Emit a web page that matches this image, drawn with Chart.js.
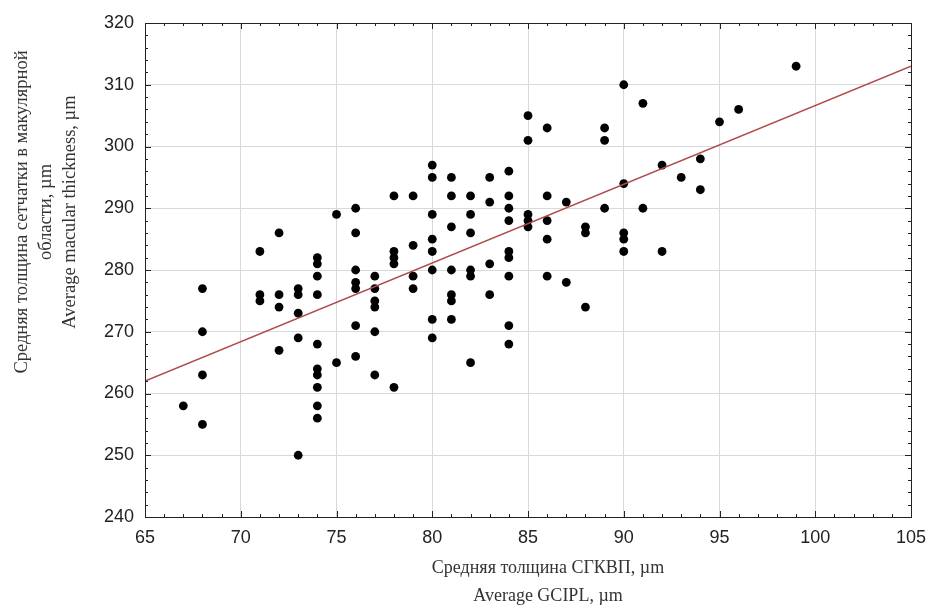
<!DOCTYPE html>
<html>
<head>
<meta charset="utf-8">
<title>Macular thickness vs GCIPL</title>
<script src="https://cdn.jsdelivr.net/npm/chart.js"></script>
<style>
  body { margin: 0; background: #fff; }
</style>
</head>
<body>
<canvas id="scatterChart" width="930" height="613"></canvas>
<script>
// GCIPL (x) and macular thickness (y), one entry per patient
const gcipl = [
  67,
  68, 68, 68, 68,
  71, 71, 71,
  72, 72, 72, 72,
  73, 73, 73, 73, 73,
  74, 74, 74, 74, 74, 74, 74, 74, 74, 74,
  75, 75,
  76, 76, 76, 76, 76, 76, 76,
  77, 77, 77, 77, 77, 77,
  78, 78, 78, 78, 78,
  79, 79, 79, 79,
  80, 80, 80, 80, 80, 80, 80, 80,
  81, 81, 81, 81, 81, 81, 81,
  82, 82, 82, 82, 82, 82,
  83, 83, 83, 83,
  84, 84, 84, 84, 84, 84, 84, 84, 84,
  85, 85, 85, 85, 85,
  86, 86, 86, 86, 86,
  87, 87,
  88, 88, 88,
  89, 89, 89,
  90, 90, 90, 90, 90,
  91, 91,
  92, 92,
  93,
  94, 94,
  95,
  96,
  99
];
const macular = [
  258,
  277, 270, 263, 255,
  283, 276, 275,
  286, 276, 274, 267,
  277, 276, 273, 269, 250,
  282, 281, 279, 276, 268, 264, 263, 261, 258, 256,
  289, 265,
  290, 286, 280, 278, 277, 271, 266,
  279, 277, 275, 274, 270, 263,
  292, 283, 282, 281, 261,
  292, 284, 279, 277,
  297, 295, 289, 285, 283, 280, 272, 269,
  295, 292, 287, 280, 276, 275, 272,
  292, 289, 286, 280, 279, 265,
  295, 291, 281, 276,
  296, 292, 290, 288, 283, 282, 279, 271, 268,
  305, 301, 289, 288, 287,
  303, 292, 288, 285, 279,
  291, 278,
  287, 286, 274,
  303, 301, 290,
  310, 294, 286, 285, 283,
  307, 290,
  297, 283,
  295,
  298, 293,
  304,
  306,
  313
];

// regression line at the plot edges
const fitX = [65, 105];
const fitY = [262, 313];

const xTicks = [65, 70, 75, 80, 85, 90, 95, 100, 105];
const yTicks = [240, 250, 260, 270, 280, 290, 300, 310, 320];

const xTitle = ['Средняя толщина СГКВП, µm', 'Average GCIPL, µm'];
const yTitle = ['Средняя толщина сетчатки в макулярной', 'области, µm', 'Average macular thickness, µm'];

Chart.defaults.font.family = '"Liberation Sans", Arial, sans-serif';
Chart.defaults.font.size = 18;
Chart.defaults.color = '#222';

// frame, inward minor ticks and axis titles, drawn on top
const framePlugin = {
  id: 'frame',
  afterDraw(chart) {
    const { ctx, chartArea: a, scales: { x, y } } = chart;
    ctx.save();
    ctx.strokeStyle = '#222';
    ctx.lineWidth = 1;
    ctx.strokeRect(a.left + 0.5, a.top + 0.5, a.right - a.left, a.bottom - a.top);

    ctx.beginPath();
    for (let v = x.min; v <= x.max; v++) {
      const px = Math.round(x.getPixelForValue(v)) + 0.5;
      const len = v % 5 === 0 ? 6 : 3;
      ctx.moveTo(px, a.bottom); ctx.lineTo(px, a.bottom - len);
      ctx.moveTo(px, a.top); ctx.lineTo(px, a.top + len);
    }
    for (let v = y.min; v <= y.max; v += 2) {
      const py = Math.round(y.getPixelForValue(v)) + 0.5;
      const len = v % 10 === 0 ? 6 : 3;
      ctx.moveTo(a.left, py); ctx.lineTo(a.left + len, py);
      ctx.moveTo(a.right, py); ctx.lineTo(a.right - len, py);
    }
    ctx.stroke();

    ctx.fillStyle = '#333';
    ctx.font = '18px "Liberation Serif", "Times New Roman", serif';
    ctx.textAlign = 'center';
    ctx.textBaseline = 'middle';
    xTitle.forEach((t, i) => ctx.fillText(t, 548, 568 + i * 28));

    ctx.font = '18.5px "Liberation Serif", "Times New Roman", serif';
    ctx.translate(22, 212);
    ctx.rotate(-Math.PI / 2);
    yTitle.forEach((t, i) => ctx.fillText(t, 0, i * 24));
    ctx.restore();
  }
};

const ctx = document.getElementById('scatterChart').getContext('2d');
new Chart(ctx, {
  type: 'scatter',
  data: {
    datasets: [
      {
        label: 'Patients',
        data: gcipl.map((g, i) => ({ x: g, y: macular[i] })),
        backgroundColor: '#000',
        borderWidth: 0,
        pointRadius: 4.4,
        order: 1
      },
      {
        label: 'Fit',
        type: 'line',
        data: fitX.map((g, i) => ({ x: g, y: fitY[i] })),
        borderColor: '#b04a4a',
        borderWidth: 1.5,
        pointRadius: 0,
        fill: false,
        order: 0
      }
    ]
  },
  options: {
    responsive: false,
    animation: false,
    layout: { padding: { top: 23, right: 19, left: 0, bottom: 0 } },
    plugins: {
      legend: { display: false },
      tooltip: { enabled: false }
    },
    scales: {
      x: {
        type: 'linear',
        min: 65,
        max: 105,
        afterBuildTicks: s => { s.ticks = xTicks.map(v => ({ value: v })); },
        afterFit: s => { s.height = 96; s.paddingRight = 0; s.paddingLeft = 0; },
        ticks: { padding: 10, maxRotation: 0 },
        grid: { color: '#d9d9d9', drawTicks: false },
        border: { display: false }
      },
      y: {
        type: 'linear',
        min: 240,
        max: 320,
        afterBuildTicks: s => { s.ticks = yTicks.map(v => ({ value: v })); },
        afterFit: s => { s.width = 145; },
        ticks: { padding: 11 },
        grid: { color: '#d9d9d9', drawTicks: false },
        border: { display: false }
      }
    }
  },
  plugins: [framePlugin]
});
</script>
</body>
</html>
